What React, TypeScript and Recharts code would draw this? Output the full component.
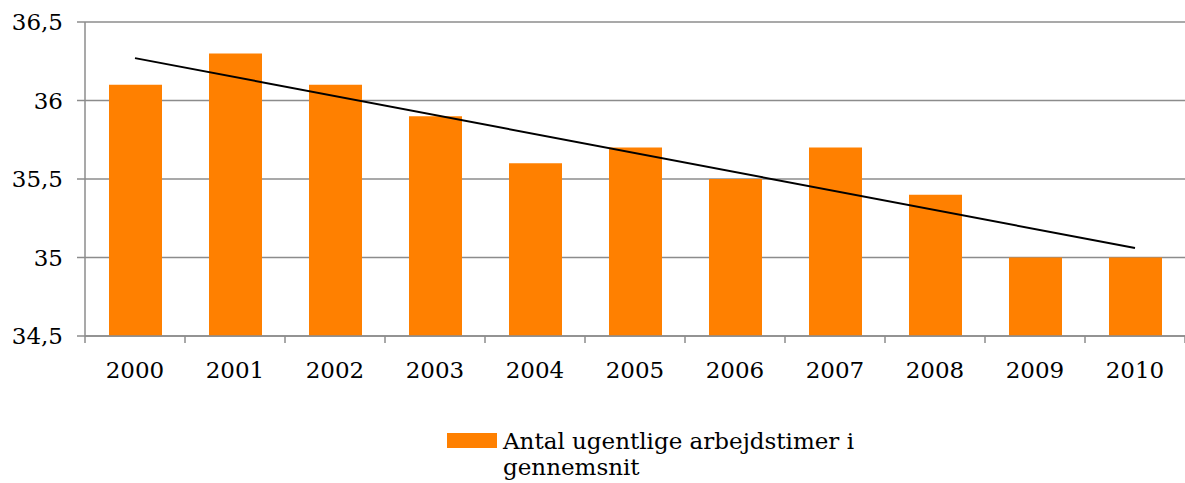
import React from 'react';
import {
  ComposedChart,
  Bar,
  Line,
  XAxis,
  YAxis,
  CartesianGrid,
  Legend,
} from 'recharts';

const years = ['2000', '2001', '2002', '2003', '2004', '2005', '2006', '2007', '2008', '2009', '2010'];
const hours = [36.1, 36.3, 36.1, 35.9, 35.6, 35.7, 35.5, 35.7, 35.4, 35.0, 35.0];
// linear trendline, end points
const trend = [36.27, null, null, null, null, null, null, null, null, null, 35.06];
const yTicks = [34.5, 35, 35.5, 36, 36.5];
const seriesName = 'Antal ugentlige arbejdstimer i gennemsnit';

const ORANGE = '#FF8000';
const GRAY = '#8c8c8c';
const FONT = '"DejaVu Serif", serif';
const CHART_W = 1185;
const Y_AXIS_W = 85;
const LABEL_GAP = 26;
const BAND = (CHART_W - Y_AXIS_W) / years.length;

const data = years.map((year, i) => ({ year, hours: hours[i], trend: trend[i] }));

// category label plus Excel-style tick marks between the categories
const YearTick = (props: any) => {
  const { x, y, payload, index } = props;
  const half = payload && payload.offset ? payload.offset : BAND / 2;
  const axisY = y - LABEL_GAP;
  return (
    <g>
      <line x1={x - half} x2={x - half} y1={axisY} y2={axisY + 7} stroke={GRAY} strokeWidth={1.5} />
      {index === years.length - 1 && (
        <line x1={x + half} x2={x + half} y1={axisY} y2={axisY + 7} stroke={GRAY} strokeWidth={1.5} />
      )}
      <text x={x} y={y} dy="0.71em" textAnchor="middle" fill="#000" fontSize={23} fontFamily={FONT}>
        {payload.value}
      </text>
    </g>
  );
};

const LegendContent = () => (
  <div style={{ display: 'flex', alignItems: 'flex-start', fontFamily: FONT, fontSize: 23, color: '#000' }}>
    <div style={{ width: 50, height: 15, background: ORANGE, marginTop: 5, marginRight: 6, flexShrink: 0 }} />
    <div style={{ width: 380, lineHeight: '26px' }}>{seriesName}</div>
  </div>
);

const App: React.FC = () => {
  return (
    <div style={{ position: 'absolute', left: 0, top: 0, background: '#fff' }}>
      <ComposedChart width={CHART_W} height={483} data={data} margin={{ top: 22, right: 0, left: 0, bottom: 0 }}>
        <CartesianGrid vertical={false} stroke={GRAY} strokeWidth={1.5} />
        <XAxis
          dataKey="year"
          axisLine={{ stroke: GRAY, strokeWidth: 1.5 }}
          tickLine={false}
          tickSize={0}
          tickMargin={LABEL_GAP}
          height={67}
          interval={0}
          tick={<YearTick />}
        />
        <YAxis
          domain={[34.5, 36.5]}
          ticks={yTicks}
          width={Y_AXIS_W}
          axisLine={{ stroke: GRAY, strokeWidth: 1.5 }}
          tickLine={{ stroke: GRAY, strokeWidth: 1.5 }}
          tickSize={8}
          tickMargin={14}
          tickFormatter={(v: number) => String(v).replace('.', ',')}
          tick={{ fill: '#000', fontSize: 23, fontFamily: FONT }}
        />
        <Legend
          verticalAlign="bottom"
          height={80}
          content={() => <LegendContent />}
          wrapperStyle={{ top: 428, left: 447, bottom: 'auto', width: 500 }}
        />
        <Bar dataKey="hours" name={seriesName} fill={ORANGE} barSize={53} isAnimationActive={false} />
        <Line
          dataKey="trend"
          stroke="#000"
          strokeWidth={2}
          dot={false}
          connectNulls
          legendType="none"
          isAnimationActive={false}
        />
      </ComposedChart>
    </div>
  );
};

export default App;
